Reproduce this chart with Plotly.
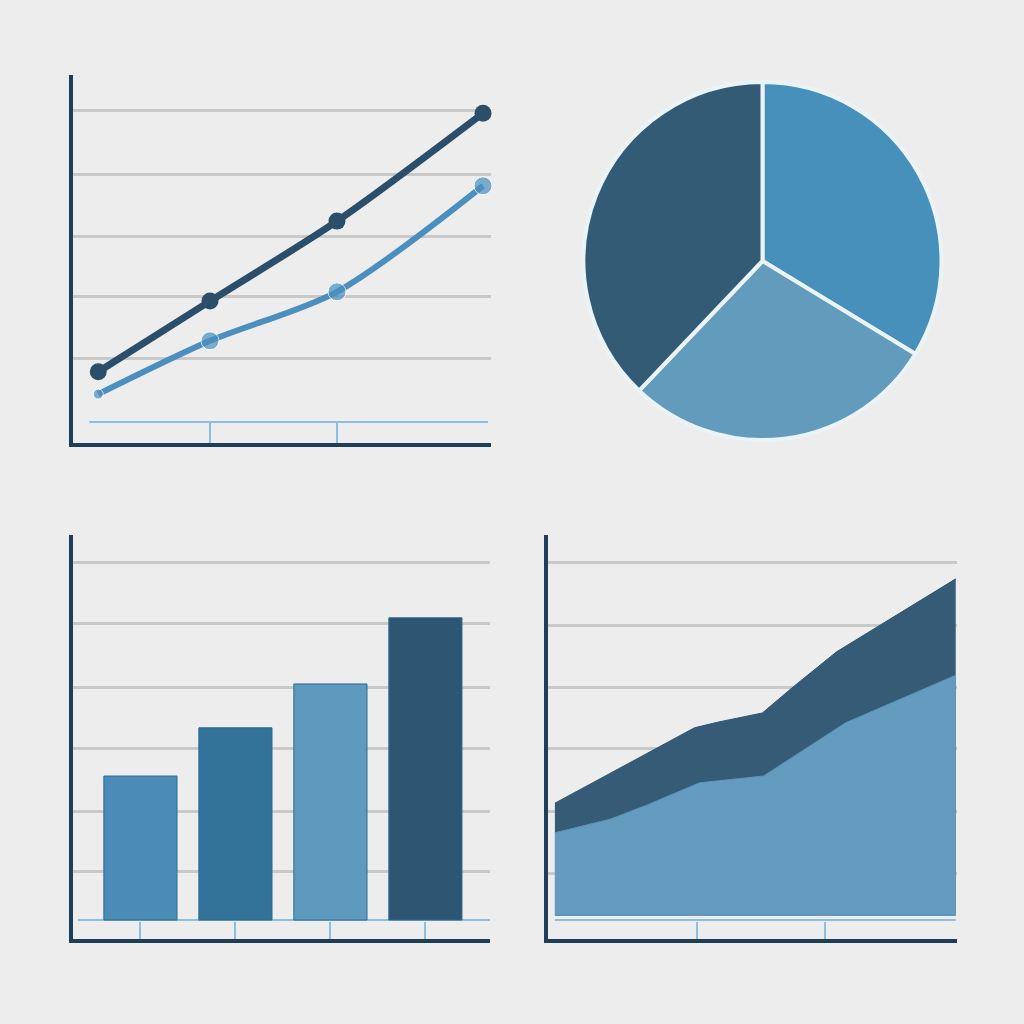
import plotly.graph_objects as go

# line chart (top left)
line_x = [0.12, 1.0, 2.0, 3.15]
line_dark = [0.81, 1.95, 3.24, 4.98]
line_light = [0.45, 1.31, 2.10, 3.81]

# pie (top right), clockwise from 12 o'clock
pie_values = [33.7, 28.4, 37.9]
pie_colors = ['#4790bb', '#639bbd', '#345b76']

# bar chart (bottom left)
bar_x = [0, 1, 2, 3]
bar_values = [2.33, 3.11, 3.82, 4.89]
bar_colors = ['#4a8cb6', '#337399', '#5e9abe', '#2e5572']

# stacked area (bottom right)
area_low_x = [-0.11, 0.32, 0.61, 1.02, 1.52, 2.16, 3.02]
area_low = [1.33, 1.55, 1.78, 2.14, 2.25, 3.11, 3.88]
area_top_x = [-0.11, 0.30, 0.98, 1.16, 1.51, 1.75, 2.09, 3.02]
area_top = [1.81, 2.27, 3.03, 3.12, 3.27, 3.69, 4.26, 5.44]

BG = '#ededed'
AXIS = '#1e3f5c'
GRID = '#c9c9c9'
PALE = '#8cbde3'


def dx(a, b):
    return [a / 1024, b / 1024]


def dy(top, bottom):
    return [1 - bottom / 1024, 1 - top / 1024]


def xax(domain, rng, anchor, ticks, ticklen):
    return dict(domain=domain, range=rng, anchor=anchor, showline=True,
                linecolor=AXIS, linewidth=4, showgrid=False, zeroline=False,
                tickvals=ticks, ticks='inside', ticklen=ticklen,
                tickcolor=PALE, tickwidth=2, showticklabels=False,
                fixedrange=True)


def yax(domain, rng, anchor, grid):
    return dict(domain=domain, range=rng, anchor=anchor, showline=True,
                linecolor=AXIS, linewidth=4, showgrid=True, gridcolor=GRID,
                gridwidth=3, tickvals=grid, ticks='', zeroline=False,
                showticklabels=False, fixedrange=True)


fig = go.Figure()

# lines
fig.add_trace(go.Scatter(
    x=line_x, y=line_light, mode='lines+markers', xaxis='x', yaxis='y',
    line=dict(color='#4a8fbf', width=6, shape='spline', smoothing=0.8),
    marker=dict(color='#4a8fbf', size=[10, 18, 18, 18]), cliponaxis=False
))
fig.add_trace(go.Scatter(
    x=line_x, y=line_dark, mode='lines+markers', xaxis='x', yaxis='y',
    line=dict(color='#2b4e6b', width=7, shape='spline', smoothing=0.8),
    marker=dict(color='#2b4e6b', size=17), cliponaxis=False
))

# pie
fig.add_trace(go.Pie(
    values=pie_values, sort=False, direction='clockwise', rotation=0,
    marker=dict(colors=pie_colors, line=dict(color='#eaf3f8', width=4)),
    textinfo='none', hoverinfo='skip',
    domain=dict(x=dx(583, 942), y=dy(82, 440))
))

# bars
fig.add_trace(go.Bar(
    x=bar_x, y=bar_values, xaxis='x2', yaxis='y2', width=0.77,
    marker=dict(color=bar_colors, line=dict(color='#2a6a96', width=1))
))

# area
fig.add_trace(go.Scatter(
    x=area_top_x, y=area_top, mode='lines', fill='tozeroy', xaxis='x3', yaxis='y3',
    line=dict(color='#2f5573', width=1), fillcolor='#355b77'
))
fig.add_trace(go.Scatter(
    x=area_low_x, y=area_low, mode='lines', fill='tozeroy', xaxis='x3', yaxis='y3',
    line=dict(color='#5b95bb', width=1), fillcolor='#649bbe'
))

shapes = [
    dict(type='line', xref='x', yref='y', x0=0.05, x1=3.19, y0=0, y1=0,
         line=dict(color=PALE, width=2)),
    dict(type='line', xref='x2', yref='y2', x0=-0.66, x1=3.68, y0=0, y1=0,
         line=dict(color=PALE, width=2), layer='below'),
    dict(type='line', xref='x3', yref='y3', x0=-0.11, x1=3.02, y0=0, y1=0,
         line=dict(color='#5b95c0', width=2)),
    dict(type='line', xref='x3', yref='y3', x0=-0.11, x1=3.02, y0=-0.08, y1=-0.08,
         line=dict(color=PALE, width=2)),
]

fig.update_layout(
    width=1024, height=1024,
    margin=dict(l=0, r=0, t=0, b=0),
    paper_bgcolor=BG, plot_bgcolor=BG,
    showlegend=False,
    hovermode=False,
    xaxis=xax(dx(73, 491), [-0.079, 3.213], 'y', [1, 2], 20),
    yaxis=yax(dy(75, 443), [-0.339, 5.597], 'x', [1.02, 2.02, 3.0, 4.0, 5.02]),
    xaxis2=xax(dx(73, 490), [-0.71, 3.68], 'y2', bar_x, 17),
    yaxis2=yax(dy(535, 939), [-0.307, 6.23], 'x2', [0.78, 1.75, 2.78, 3.77, 4.79, 5.78]),
    xaxis3=xax(dx(548, 957), [-0.164, 3.03], 'y3', [1, 2], 17),
    yaxis3=yax(dy(535, 939), [-0.388, 6.15], 'x3', [0.68, 1.68, 2.70, 3.69, 4.69, 5.70]),
    shapes=shapes,
)

fig.write_html("out.html", config={'displayModeBar': False},
               post_script="document.body.style.margin='0';document.body.style.overflow='hidden';")
